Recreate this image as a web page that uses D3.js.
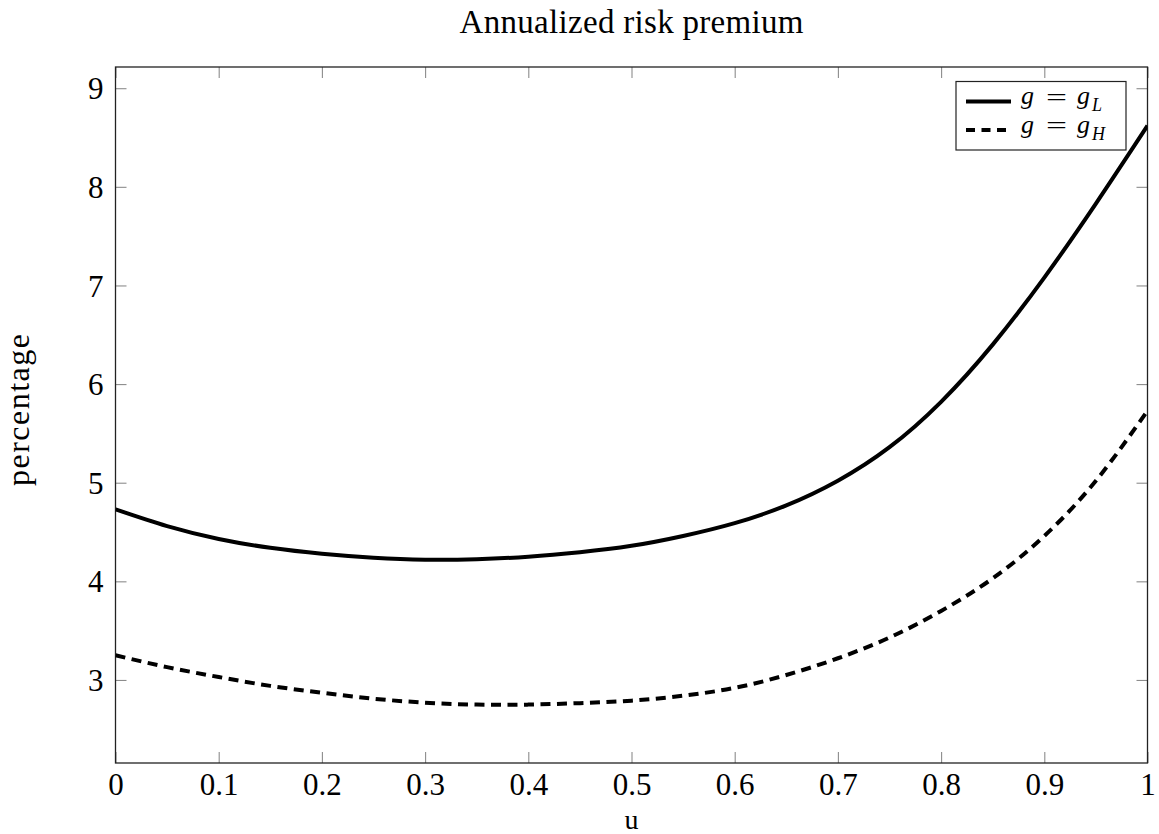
<!DOCTYPE html>
<html>
<head>
<meta charset="utf-8">
<script src="https://cdn.jsdelivr.net/npm/d3@7"></script>
<style>
  html, body { margin: 0; padding: 0; background: #fff; }
  svg { display: block; }
  text { font-family: "Liberation Serif", "DejaVu Serif", serif; fill: #000; }
</style>
</head>
<body>
<svg id="chart" width="1159" height="834"></svg>
<script>
// ---- data ----
const uValues = [0, 0.05, 0.1, 0.15, 0.2, 0.25, 0.3, 0.35, 0.4, 0.45, 0.5,
                 0.55, 0.6, 0.65, 0.7, 0.75, 0.8, 0.85, 0.9, 0.95, 1.0];
const premiumLow = [4.73, 4.56, 4.43, 4.34, 4.28, 4.24, 4.22, 4.225, 4.25, 4.295, 4.36,
                    4.46, 4.59, 4.77, 5.02, 5.36, 5.82, 6.40, 7.08, 7.83, 8.62];
const premiumHigh = [3.25, 3.13, 3.03, 2.94, 2.87, 2.81, 2.77, 2.75, 2.75, 2.765, 2.79,
                     2.84, 2.92, 3.05, 3.22, 3.43, 3.70, 4.03, 4.46, 5.02, 5.73];
const xTicks = [0, 0.1, 0.2, 0.3, 0.4, 0.5, 0.6, 0.7, 0.8, 0.9, 1];
const xTickLabels = ["0", "0.1", "0.2", "0.3", "0.4", "0.5", "0.6", "0.7", "0.8", "0.9", "1"];
const yTicks = [3, 4, 5, 6, 7, 8, 9];
const yTickLabels = ["3", "4", "5", "6", "7", "8", "9"];
const seriesNames = ["L", "H"];

// ---- layout ----
const svg = d3.select("#chart");
const W = 1159, H = 834;
const plot = { left: 115.5, right: 1147.5, top: 67, bottom: 763 };
svg.append("rect").attr("width", W).attr("height", H).attr("fill", "#fff");

const x = d3.scaleLinear().domain([0, 1]).range([plot.left, plot.right]);
const y = d3.scaleLinear().domain([2.158, 9.215]).range([plot.bottom, plot.top]);

const tickLen = 11;
const tickColor = "#8c8c8c";

// clip
svg.append("defs").append("clipPath").attr("id", "clip")
  .append("rect")
  .attr("x", plot.left).attr("y", plot.top)
  .attr("width", plot.right - plot.left).attr("height", plot.bottom - plot.top);

// axes with inward ticks on all four sides
const axB = svg.append("g").attr("transform", `translate(0,${plot.bottom})`)
  .call(d3.axisBottom(x).tickValues(xTicks).tickSize(-tickLen).tickFormat((d, i) => xTickLabels[i]).tickPadding(10));
const axT = svg.append("g").attr("transform", `translate(0,${plot.top})`)
  .call(d3.axisTop(x).tickValues(xTicks).tickSize(-tickLen).tickFormat(""));
const axL = svg.append("g").attr("transform", `translate(${plot.left},0)`)
  .call(d3.axisLeft(y).tickValues(yTicks).tickSize(-tickLen).tickFormat((d, i) => yTickLabels[i]).tickPadding(12));
const axR = svg.append("g").attr("transform", `translate(${plot.right},0)`)
  .call(d3.axisRight(y).tickValues(yTicks).tickSize(-tickLen).tickFormat(""));

[axB, axT, axL, axR].forEach(g => {
  g.select(".domain").remove();
  g.selectAll(".tick line").attr("stroke", tickColor).attr("stroke-width", 1.1);
  g.selectAll(".tick text").attr("font-size", 31)
    .attr("font-family", '"Liberation Serif", "DejaVu Serif", serif').attr("fill", "#000");
});
axB.selectAll(".tick text").attr("dy", "0.71em");
axL.selectAll(".tick text").attr("dy", "0.34em");

// frame
svg.append("rect")
  .attr("x", plot.left).attr("y", plot.top)
  .attr("width", plot.right - plot.left).attr("height", plot.bottom - plot.top)
  .attr("fill", "none").attr("stroke", "#222").attr("stroke-width", 1.3);

// lines
const line = d3.line().x(d => x(d[0])).y(d => y(d[1])).curve(d3.curveNatural);
const g = svg.append("g").attr("clip-path", "url(#clip)");
g.append("path").datum(uValues.map((u, i) => [u, premiumLow[i]]))
  .attr("d", line).attr("fill", "none").attr("stroke", "#000").attr("stroke-width", 4);
g.append("path").datum(uValues.map((u, i) => [u, premiumHigh[i]]))
  .attr("d", line).attr("fill", "none").attr("stroke", "#000").attr("stroke-width", 4)
  .attr("stroke-dasharray", "10,6.5");

// title and axis labels
svg.append("text").attr("x", (plot.left + plot.right) / 2).attr("y", 33)
  .attr("text-anchor", "middle").attr("font-size", 33)
  .attr("textLength", 344).attr("lengthAdjust", "spacing").text("Annualized risk premium");
svg.append("text").attr("x", (plot.left + plot.right) / 2).attr("y", 829)
  .attr("text-anchor", "middle").attr("font-size", 28).text("u");
svg.append("text")
  .attr("transform", `translate(29,${(plot.top + plot.bottom) / 2 - 5}) rotate(-90)`)
  .attr("text-anchor", "middle").attr("font-size", 32)
  .attr("textLength", 152).attr("lengthAdjust", "spacing").text("percentage");

// legend
const leg = svg.append("g");
leg.append("rect").attr("x", 956).attr("y", 81.5).attr("width", 170).attr("height", 68.5)
  .attr("fill", "#fff").attr("stroke", "#222").attr("stroke-width", 1.2);
const legRows = [
  { yc: 101.5, dash: null, sub: seriesNames[0] },
  { yc: 130, dash: "9,6.5", sub: seriesNames[1] }
];
legRows.forEach(r => {
  const ln = leg.append("line").attr("x1", 966).attr("x2", 1011).attr("y1", r.yc).attr("y2", r.yc)
    .attr("stroke", "#000").attr("stroke-width", 4);
  if (r.dash) ln.attr("stroke-dasharray", r.dash);
  const base = r.yc + 2.5;
  leg.append("text").attr("x", 1021).attr("y", base).attr("font-size", 26)
    .attr("font-style", "italic").text("g");
  leg.append("text").attr("x", 1046).attr("y", base + 1.5).attr("font-size", 26)
    .attr("textLength", 21).attr("lengthAdjust", "spacingAndGlyphs").text("=");
  leg.append("text").attr("x", 1077).attr("y", base).attr("font-size", 26)
    .attr("font-style", "italic").text("g");
  leg.append("text").attr("x", 1092).attr("y", base + 7).attr("font-size", 18)
    .attr("font-style", "italic").text(r.sub);
});
</script>
</body>
</html>
